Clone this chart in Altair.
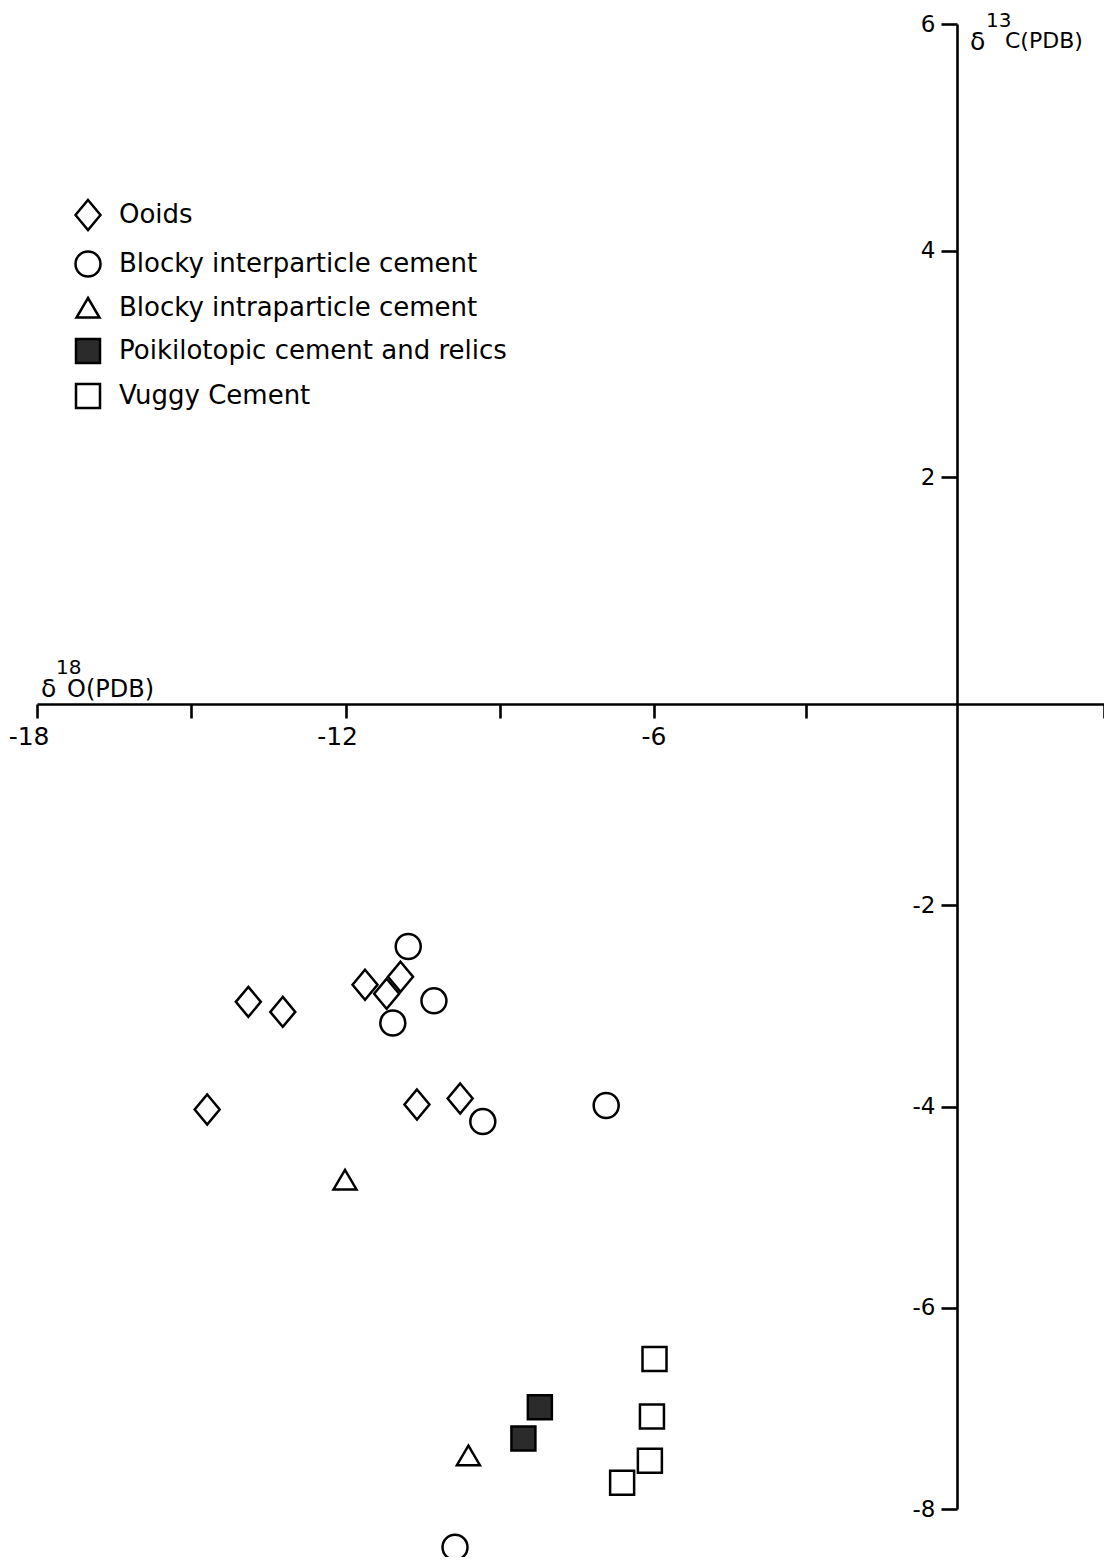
import altair as alt
import pandas as pd

groups = [
    "Ooids",
    "Blocky interparticle cement",
    "Blocky intraparticle cement",
    "Poikilotopic cement and relics",
    "Vuggy Cement",
]

# delta 18O (PDB) and delta 13C (PDB)
ooids_x = [-13.89, -13.22, -14.69, -11.62, -11.20, -10.93, -10.61, -9.77]
ooids_y = [-2.96, -3.06, -4.03, -2.79, -2.88, -2.71, -3.98, -3.92]
inter_x = [-10.78, -11.08, -10.28, -9.33, -6.93, -9.87]
inter_y = [-2.41, -3.17, -2.95, -4.15, -3.99, -8.38]
intra_x = [-12.01, -9.61]
intra_y = [-4.73, -7.47]
poik_x = [-8.22, -8.54]
poik_y = [-6.99, -7.30]
vuggy_x = [-5.99, -6.04, -6.08, -6.62]
vuggy_y = [-6.51, -7.08, -7.52, -7.74]

x_ticks = [-18, -15, -12, -9, -6, -3, 3]
x_labelled = [-18, -12, -6]
y_ticks = [6, 4, 2, -2, -4, -6, -8]

rows = []
for g, xs, ys in zip(groups,
                     [ooids_x, inter_x, intra_x, poik_x, vuggy_x],
                     [ooids_y, inter_y, intra_y, poik_y, vuggy_y]):
    for xv, yv in zip(xs, ys):
        rows.append({"group": g, "d18O": xv, "d13C": yv})
df = pd.DataFrame(rows)

FONT = "DejaVu Sans"
DIAMOND = "M0,-1.2L1,0L0,1.2L-1,0Z"
CIRCLE = "M1,0A1,1,0,1,1,-1,0A1,1,0,1,1,1,0Z"
TRIANGLE = "M0,-0.8L0.92,0.76L-0.92,0.76Z"
SQUARE = "M-0.96,-0.96L0.96,-0.96L0.96,0.96L-0.96,0.96Z"
shapes = [DIAMOND, CIRCLE, TRIANGLE, SQUARE, SQUARE]
fills = ["transparent", "transparent", "transparent", "#2b2b2b", "transparent"]
strokes = ["black", "black", "black", "black", "black"]

x_scale = alt.Scale(domain=[-18, -6, 0, 3], range=[0, 617, 920, 1067], nice=False, zero=False)
y_scale = alt.Scale(domain=[-8, 0, 6], range=[1485, 680, 0], nice=False, zero=False)

legend = alt.Legend(
    orient="none", legendX=37, legendY=177, title=None,
    labelFont=FONT, labelFontSize=26, labelColor="black", labelLimit=0,
    labelOffset=17, symbolSize=625, symbolStrokeWidth=2.5,
    symbolStrokeColor="black", symbolOpacity=1, rowPadding=11, padding=0,
)

label_test = " || ".join("datum.value == %d" % v for v in x_labelled)
x_axis = alt.Axis(
    orient="bottom", offset=-805, values=x_ticks, title=None, grid=False,
    labelExpr="(" + label_test + ") ? '' + datum.value : ''",
    tickSize=14, labelPadding=6, labelAlign="right", labelOffset=12,
    domainColor="black", domainWidth=2.6, tickColor="black", tickWidth=2.6,
    labelFont=FONT, labelFontSize=25, labelColor="black",
    labelOverlap=False, labelFlush=False,
)
y_axis = alt.Axis(
    orient="left", offset=-920, values=y_ticks, title=None, grid=False,
    labelExpr="'' + datum.value",
    tickSize=16, labelPadding=6,
    domainColor="black", domainWidth=2.6, tickColor="black", tickWidth=2.6,
    labelFont=FONT, labelFontSize=23, labelColor="black",
    labelOverlap=False, labelFlush=False,
)

points = alt.Chart(df).mark_point(
    strokeWidth=2.5, opacity=1, fillOpacity=1, strokeOpacity=1, size=625
).encode(
    x=alt.X("d18O:Q", scale=x_scale, axis=x_axis),
    y=alt.Y("d13C:Q", scale=y_scale, axis=y_axis),
    shape=alt.Shape("group:N", scale=alt.Scale(domain=groups, range=shapes), legend=legend),
    fill=alt.Fill("group:N", scale=alt.Scale(domain=groups, range=fills), legend=legend),
    stroke=alt.Stroke("group:N", scale=alt.Scale(domain=groups, range=strokes), legend=legend),
)


def note(text, xv, yv, dx, dy, size):
    return alt.Chart(pd.DataFrame({"t": [text]})).mark_text(
        align="left", baseline="alphabetic", dx=dx, dy=dy,
        font=FONT, fontSize=size, color="black",
    ).encode(
        x=alt.XDatum(xv, axis=None),
        y=alt.YDatum(yv, axis=None),
        text="t:N",
    )


notes = [
    note("δ", -18, 0, 4, -7, 25),
    note("18", -18, 0, 19, -30, 20),
    note("O(PDB)", -18, 0, 30, -7, 24),
    note("δ", 0, 6, 13, 26, 25),
    note("13", 0, 6, 29, 3, 20),
    note("C(PDB)", 0, 6, 48, 24, 22),
]

chart = alt.layer(points, *notes).resolve_axis(
    x="independent", y="independent"
).properties(
    width=1067, height=1485,
    autosize=alt.AutoSizeParams(type="none"),
    padding={"left": 29, "top": 16, "right": 0, "bottom": 48},
    background="white",
).configure_view(stroke=None)

chart.save("out.html", embed_options={"renderer": "svg", "actions": False})
